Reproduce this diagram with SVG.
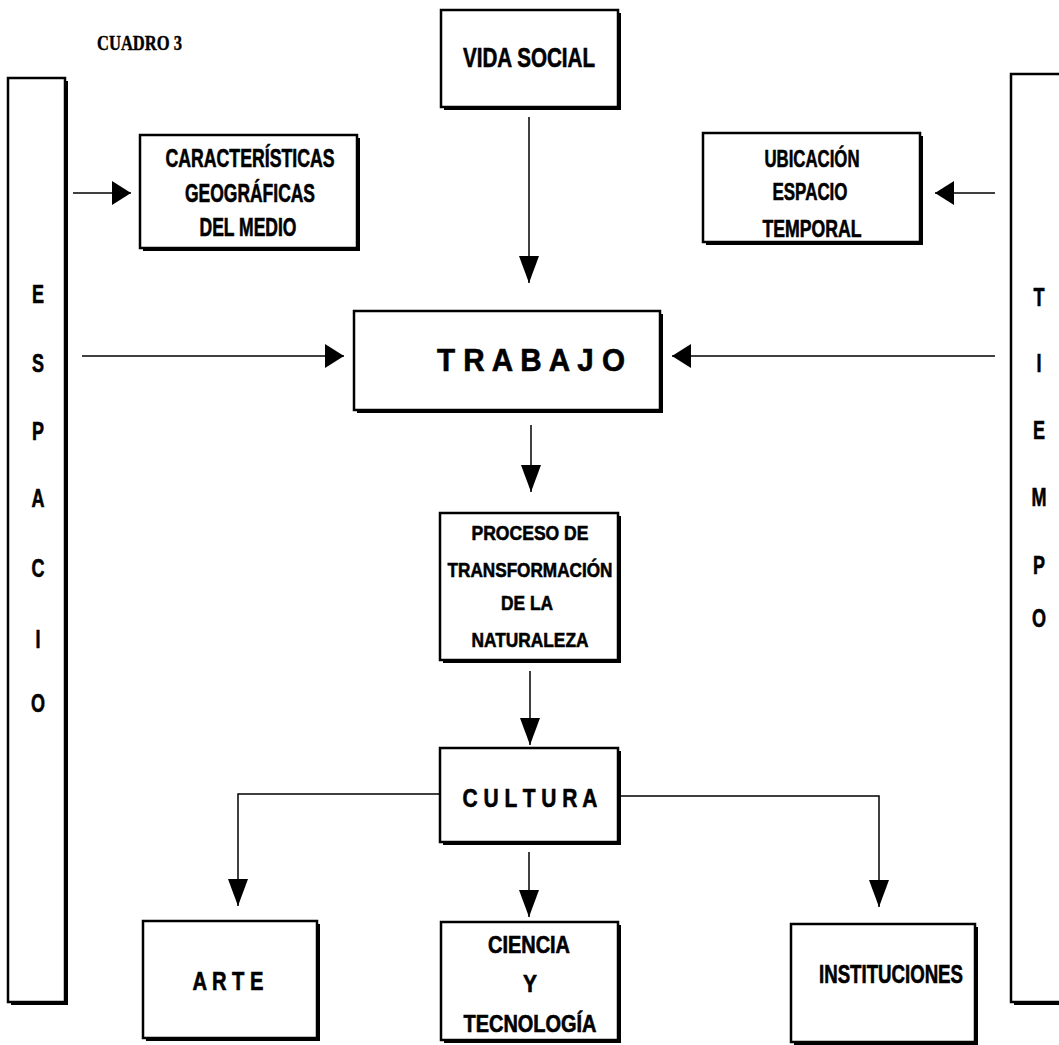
<svg xmlns="http://www.w3.org/2000/svg" width="1059" height="1045" viewBox="0 0 1059 1045">
<style>
.sh{fill:#000}
.box{fill:#fff;stroke:#000;stroke-width:2.5}
.t{font-family:"Liberation Sans",Arial,sans-serif;font-weight:bold;fill:#000;stroke:#000;stroke-width:0.6;text-anchor:middle}
.ln{fill:none;stroke:#000;stroke-width:1.5}
.v{marker-end:url(#ah)}
.h{marker-end:url(#ahs)}
</style>
<defs>
<marker id="ah" markerUnits="userSpaceOnUse" viewBox="0 0 27 20" markerWidth="27" markerHeight="20" refX="27" refY="10" orient="auto">
<path d="M0,0 L27,10 L0,20 Z" fill="#000"/>
</marker>
<marker id="ahs" markerUnits="userSpaceOnUse" viewBox="0 0 19 24" markerWidth="19" markerHeight="24" refX="19" refY="12" orient="auto">
<path d="M0,0 L19,12 L0,24 Z" fill="#000"/>
</marker>
</defs>
<rect width="1059" height="1045" fill="#fff"/>

<text x="97" y="50" font-family="'Liberation Serif',serif" font-weight="bold" font-size="20" stroke="#000" stroke-width="0.4" textLength="85" lengthAdjust="spacingAndGlyphs">CUADRO 3</text>

<g id="connectors">
<path class="ln h" d="M73,193 H131"/>
<path class="ln h" d="M995,193 H935"/>
<path class="ln v" d="M529,117 V283"/>
<path class="ln h" d="M82,356 H344"/>
<path class="ln h" d="M995,356 H672"/>
<path class="ln v" d="M531,425 V492"/>
<path class="ln v" d="M530,671 V745"/>
<path class="ln v" d="M440,794 H238 V906"/>
<path class="ln v" d="M529,852 V917"/>
<path class="ln v" d="M618,796 H879 V907"/>
</g>

<g id="espacio">
<rect class="sh" x="11" y="81" width="57" height="924"/>
<rect class="box" x="8" y="78" width="57" height="924"/>
<g class="t" font-size="25" transform="translate(38 0) scale(0.72 1)">
<text x="0" y="303">E</text>
<text x="0" y="372">S</text>
<text x="0" y="440">P</text>
<text x="0" y="507">A</text>
<text x="0" y="577">C</text>
<text x="0" y="648">I</text>
<text x="0" y="712">O</text>
</g>
</g>

<g id="tiempo">
<rect class="sh" x="1014" y="77" width="60" height="928"/>
<rect class="box" x="1011" y="74" width="60" height="928"/>
<g class="t" font-size="25" transform="translate(1039 0) scale(0.72 1)">
<text x="0" y="306">T</text>
<text x="0" y="372">I</text>
<text x="0" y="439">E</text>
<text x="0" y="506">M</text>
<text x="0" y="574">P</text>
<text x="0" y="627">O</text>
</g>
</g>

<g id="vida-social">
<rect class="sh" x="444" y="13" width="177" height="97"/>
<rect class="box" x="441" y="10" width="177" height="97"/>
<text class="t" x="529" y="67" font-size="27" textLength="132" lengthAdjust="spacingAndGlyphs">VIDA SOCIAL</text>
</g>

<g id="caracteristicas">
<rect class="sh" x="143" y="138" width="217" height="113"/>
<rect class="box" x="140" y="135" width="217" height="113"/>
<text class="t" x="250" y="167" font-size="25" textLength="169" lengthAdjust="spacingAndGlyphs">CARACTERÍSTICAS</text>
<text class="t" x="250" y="202" font-size="25" textLength="130" lengthAdjust="spacingAndGlyphs">GEOGRÁFICAS</text>
<text class="t" x="248" y="236" font-size="25" textLength="97" lengthAdjust="spacingAndGlyphs">DEL MEDIO</text>
</g>

<g id="ubicacion">
<rect class="sh" x="706" y="136" width="217" height="109"/>
<rect class="box" x="703" y="133" width="217" height="109"/>
<text class="t" x="812" y="167" font-size="24" textLength="95" lengthAdjust="spacingAndGlyphs">UBICACIÓN</text>
<text class="t" x="810" y="200" font-size="24" textLength="75" lengthAdjust="spacingAndGlyphs">ESPACIO</text>
<text class="t" x="812" y="237" font-size="24" textLength="99" lengthAdjust="spacingAndGlyphs">TEMPORAL</text>
</g>

<g id="trabajo">
<rect class="sh" x="357" y="314" width="306" height="99"/>
<rect class="box" x="354" y="311" width="306" height="99"/>
<text class="t" x="531" y="371" font-size="31" textLength="188" lengthAdjust="spacingAndGlyphs">T R A B A J O</text>
</g>

<g id="proceso">
<rect class="sh" x="443" y="516" width="178" height="147"/>
<rect class="box" x="440" y="513" width="178" height="147"/>
<text class="t" x="530" y="540" font-size="21" textLength="117" lengthAdjust="spacingAndGlyphs">PROCESO DE</text>
<text class="t" x="530" y="577" font-size="21" textLength="165" lengthAdjust="spacingAndGlyphs">TRANSFORMACIÓN</text>
<text class="t" x="527" y="610" font-size="21" textLength="52" lengthAdjust="spacingAndGlyphs">DE LA</text>
<text class="t" x="530" y="647" font-size="21" textLength="117" lengthAdjust="spacingAndGlyphs">NATURALEZA</text>
</g>

<g id="cultura">
<rect class="sh" x="443" y="751" width="178" height="94"/>
<rect class="box" x="440" y="748" width="178" height="94"/>
<text class="t" x="530" y="807" font-size="26" textLength="135" lengthAdjust="spacingAndGlyphs">C U L T U R A</text>
</g>

<g id="arte">
<rect class="sh" x="146" y="924" width="174" height="117"/>
<rect class="box" x="143" y="921" width="174" height="117"/>
<text class="t" x="228" y="990" font-size="25" textLength="71" lengthAdjust="spacingAndGlyphs">A R T E</text>
</g>

<g id="ciencia">
<rect class="sh" x="444" y="925" width="177" height="118"/>
<rect class="box" x="441" y="922" width="177" height="118"/>
<text class="t" x="529" y="953" font-size="23" textLength="82" lengthAdjust="spacingAndGlyphs">CIENCIA</text>
<text class="t" x="530" y="992" font-size="23" textLength="14" lengthAdjust="spacingAndGlyphs">Y</text>
<text class="t" x="530" y="1032" font-size="23" textLength="133" lengthAdjust="spacingAndGlyphs">TECNOLOGÍA</text>
</g>

<g id="instituciones">
<rect class="sh" x="794" y="927" width="184" height="118"/>
<rect class="box" x="791" y="924" width="184" height="118"/>
<text class="t" x="891" y="983" font-size="25" textLength="144" lengthAdjust="spacingAndGlyphs">INSTITUCIONES</text>
</g>
</svg>
